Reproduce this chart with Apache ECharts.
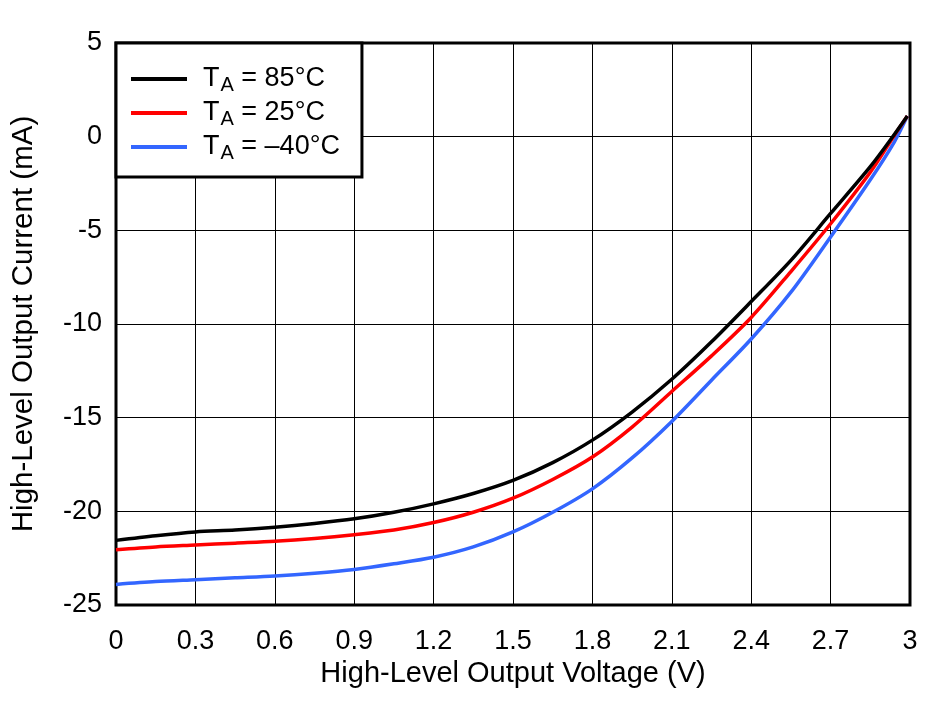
<!DOCTYPE html>
<html>
<head>
<meta charset="utf-8">
<script src="https://cdn.jsdelivr.net/npm/echarts@6/dist/echarts.min.js"></script>
<style>html,body{margin:0;padding:0;background:#fff;}#c{width:942px;height:701px;}</style>
</head>
<body>
<div id="c"></div>
<script>
var voltage = [0, 0.15, 0.3, 0.45, 0.6, 0.75, 0.9, 1.05, 1.2, 1.35, 1.5, 1.65, 1.8, 1.95, 2.1, 2.25, 2.4, 2.55, 2.7, 2.85, 2.94, 2.99];
var current85 = [-21.55, -21.3, -21.1, -21.0, -20.85, -20.65, -20.4, -20.05, -19.6, -19.05, -18.35, -17.4, -16.2, -14.7, -12.95, -10.95, -8.8, -6.6, -4.1, -1.6, 0.1, 1.1];
var current25 = [-22.05, -21.9, -21.8, -21.7, -21.6, -21.45, -21.25, -21.0, -20.6, -20.05, -19.3, -18.3, -17.1, -15.5, -13.6, -11.7, -9.65, -7.2, -4.65, -1.9, 0.05, 1.1];
var currentM40 = [-23.9, -23.75, -23.65, -23.55, -23.45, -23.3, -23.1, -22.8, -22.45, -21.9, -21.1, -20.05, -18.8, -17.15, -15.2, -13.0, -10.8, -8.3, -5.35, -2.3, -0.3, 1.1];
var seriesNames = ['T85', 'T25', 'TM40'];
var legendTexts = ['{t|T}{sub|A}{t| = 85°C}', '{t|T}{sub|A}{t| = 25°C}', '{t|T}{sub|A}{t| = –40°C}'];
var colors = ['#000000', '#ff0000', '#3366ff'];
var xTicks = ['0', '0.3', '0.6', '0.9', '1.2', '1.5', '1.8', '2.1', '2.4', '2.7', '3'];

function pairs(xs, ys) { return xs.map(function (x, i) { return [x, ys[i]]; }); }
var allData = [current85, current25, currentM40];
var FF = 'Liberation Sans, Arial, sans-serif';

var chart = echarts.init(document.getElementById('c'));
chart.setOption({
  animation: false,
  backgroundColor: '#fff',
  textStyle: { fontFamily: FF },
  grid: { left: 116, right: 32, top: 43, bottom: 96, show: true, borderColor: '#000', borderWidth: 3, containLabel: false },
  legend: {
    orient: 'vertical', left: 116, top: 43,
    padding: [20, 22, 14, 15],
    itemGap: 2, itemWidth: 56, itemHeight: 4, icon: 'rect',
    backgroundColor: '#fff', borderColor: '#000', borderWidth: 3,
    data: seriesNames,
    formatter: function (name) { return legendTexts[seriesNames.indexOf(name)]; },
    textStyle: {
      color: '#000', fontSize: 27, padding: [0, 0, 0, 11],
      rich: {
        t: { fontSize: 27, color: '#000', fontFamily: FF, lineHeight: 30 },
        sub: { fontSize: 20, color: '#000', fontFamily: FF, lineHeight: 30, padding: [12, 0, 0, 1] }
      }
    }
  },
  xAxis: {
    type: 'value', min: 0, max: 3, interval: 0.3,
    name: 'High-Level Output Voltage (V)', nameLocation: 'middle', nameGap: 54,
    nameTextStyle: { fontSize: 29, color: '#000' },
    axisLine: { show: false }, axisTick: { show: false },
    axisLabel: { fontSize: 27, color: '#000', margin: 23,
      formatter: function (v) { var i = Math.round(v / 0.3); return xTicks[i]; } },
    splitLine: { show: true, lineStyle: { color: '#000', width: 1 } }
  },
  yAxis: {
    type: 'value', min: -25, max: 5, interval: 5,
    name: 'High-Level Output Current (mA)', nameLocation: 'middle', nameGap: 77, nameRotate: 90,
    nameTextStyle: { fontSize: 29.5, color: '#000', padding: [0, 0, 0, 0] },
    axisLine: { show: false }, axisTick: { show: false },
    axisLabel: { fontSize: 27, color: '#000', margin: 14 },
    splitLine: { show: true, lineStyle: { color: '#000', width: 1 } }
  },
  series: seriesNames.map(function (n, i) {
    return {
      name: n, type: 'line', smooth: 0.3, showSymbol: false, symbol: 'none',
      data: pairs(voltage, allData[i]),
      itemStyle: { color: colors[i] },
      lineStyle: { color: colors[i], width: 3.5 },
      z: 10 - i
    };
  })
});
</script>
</body>
</html>
